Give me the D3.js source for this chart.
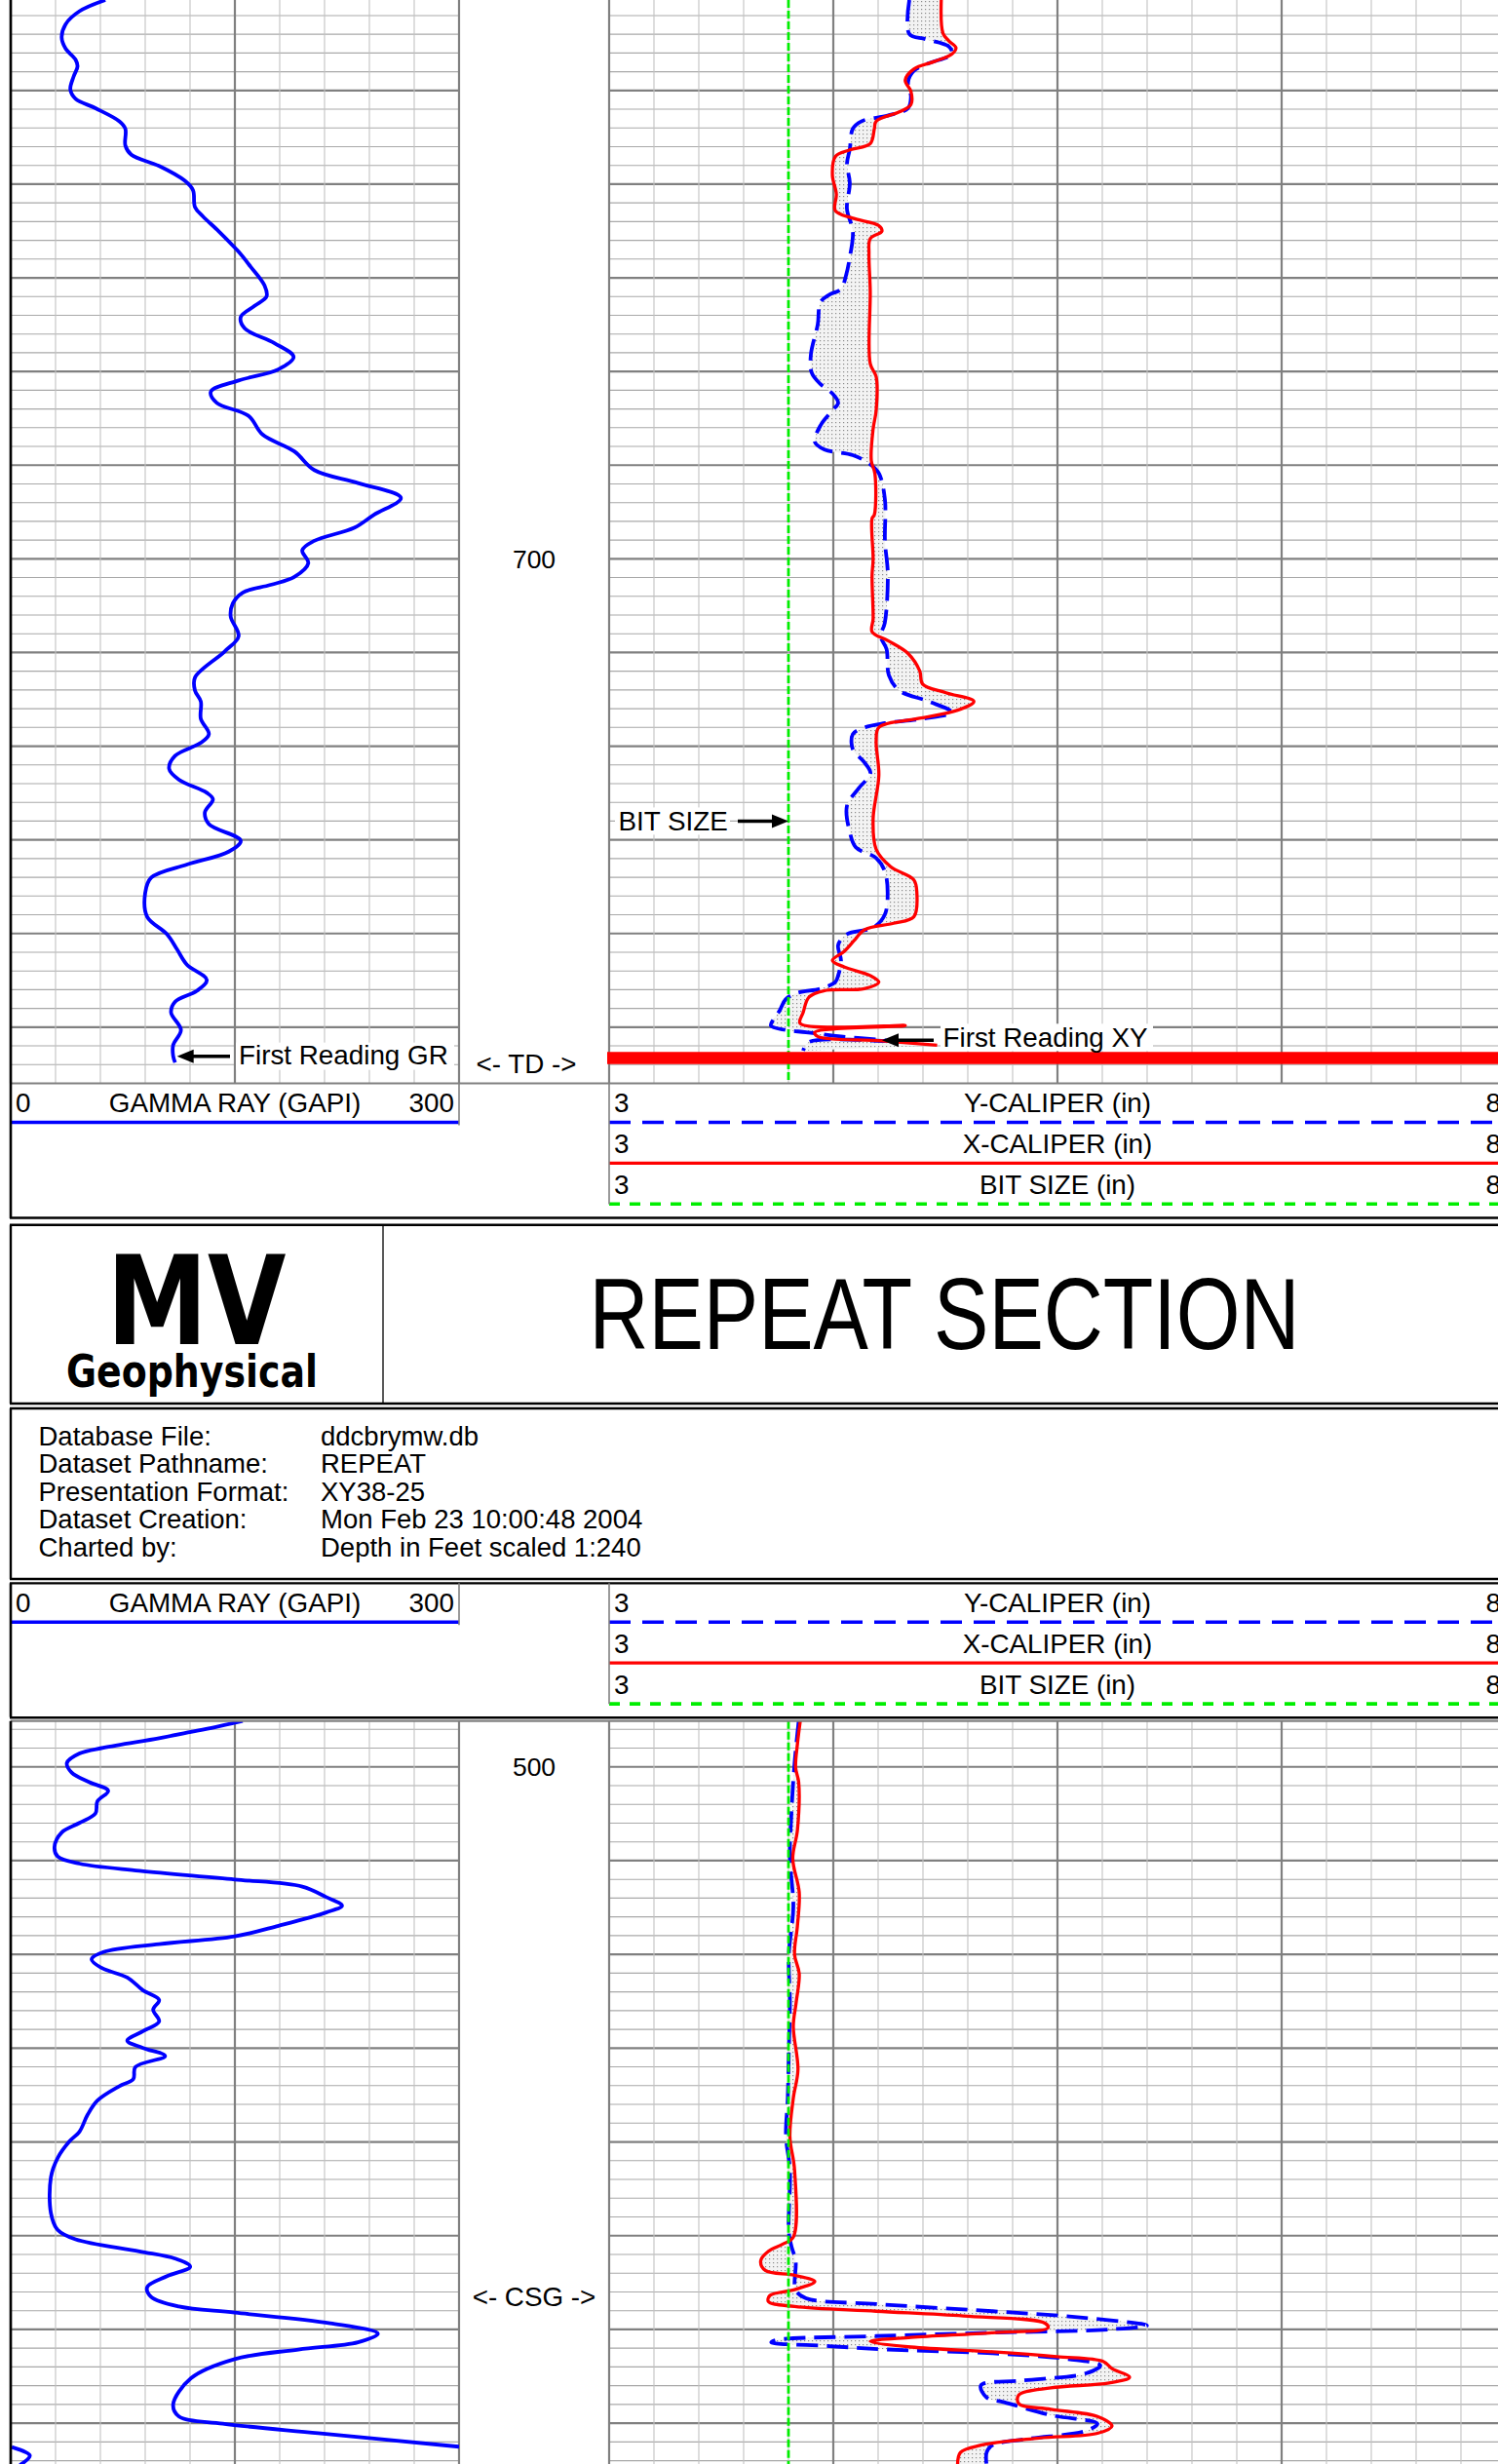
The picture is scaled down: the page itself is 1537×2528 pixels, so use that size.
<!DOCTYPE html>
<html>
<head>
<meta charset="utf-8">
<script src="https://cdn.jsdelivr.net/npm/d3@7"></script>
<style>
html,body{margin:0;padding:0;background:#fff;}
svg{display:block;}
</style>
</head>
<body>
<svg id="chart" width="1537" height="2528"></svg>
<script>
// ================= DATA =================
const grScale = [0, 300];            // GAPI
const caliperScale = [3, 8];         // inches
const bitSize = 4.0;                 // inches
const upperDepthRange = [640.34, 756.0];
const lowerDepthRange = [495.11, 574.53];
const upperDepthLabels = [700];
const lowerDepthLabels = [500];
const tdDepth = 753.3;
const curveNames = ["GAMMA RAY (GAPI)", "Y-CALIPER (in)", "X-CALIPER (in)", "BIT SIZE (in)"];
const infoLabels = ["Database File:", "Dataset Pathname:", "Presentation Format:", "Dataset Creation:", "Charted by:"];
const infoValues = ["ddcbrymw.db", "REPEAT", "XY38-25", "Mon Feb 23 10:00:48 2004", "Depth in Feet scaled 1:240"];
const titleText = "REPEAT SECTION";
const logoText = ["MV", "Geophysical"];
const annoUpper = {grFirst: 753.1, td: 753.9, bitSize: 728.0, xyFirst: 751.3};
const annoLower = {csg: 556.5};

// [depth ft, GR GAPI]
const grUpper = [
[640.34,63.3],[641.54,46.0],[642.93,36.7],[644.33,34.1],[645.52,36.7],[646.71,43.4],[647.43,44.7],
[648.51,42.1],[649.89,39.9],[650.89,43.4],[651.89,56.7],[653.29,72.7],[654.08,76.7],[655.88,76.7],
[656.86,80.7],[658.06,99.3],[659.65,116.6],[660.65,122.0],[662.44,123.3],[663.44,128.6],[665.03,139.2],
[667.22,152.5],[668.81,160.5],[670.81,169.8],[671.99,171.2],[672.99,163.2],[674.19,153.9],[675.39,156.5],
[676.98,176.5],[678.45,189.3],[679.77,179.2],[680.96,152.5],[682.15,133.9],[683.35,137.9],[684.74,159.2],
[686.73,168.5],[688.53,189.8],[690.52,203.1],[691.91,232.4],[693.5,261.1],[695.29,243.1],[696.69,229.8],
[698.08,203.1],[699.08,195.1],[700.48,199.1],[701.94,189.8],[702.78,173.9],[703.61,155.2],[704.77,148.6],
[706.17,147.2],[708.26,152.5],[709.88,143.2],[712.67,123.3],[714.07,123.3],[715.22,127.2],[717.08,127.2],
[718.71,132.6],[719.64,127.2],[721.03,110.0],[722.42,106.0],[723.59,112.6],[724.98,131.2],[725.67,135.3],
[727.07,129.9],[728.32,132.6],[730.09,153.9],[731.26,145.9],[732.64,117.9],[734.04,94.0],[735.66,90.0],
[738.22,91.3],[740.08,104.6],[741.7,111.3],[743.33,117.9],[744.96,131.2],[746.12,124.6],[747.28,110.0],
[748.44,107.3],[750.3,113.9],[751.92,108.7],[753.09,108.7],[753.78,110.0]
];

// [depth ft, Y-caliper in]
const yCalUpper = [
[640.34,4.674],[643.98,4.674],[644.52,4.765],[645.31,4.895],[646.12,4.911],[647.1,4.781],[647.91,4.699],
[649.1,4.667],[650.69,4.683],[651.89,4.667],[652.68,4.553],[653.28,4.408],[654.08,4.359],[656.26,4.342],
[657.86,4.326],[659.85,4.342],[662.64,4.326],[665.03,4.359],[667.81,4.342],[669.81,4.32],[671.2,4.293],
[671.8,4.228],[672.6,4.179],[675.0,4.163],[678.18,4.125],[680.16,4.13],[681.36,4.179],[682.36,4.245],
[683.35,4.277],[684.15,4.245],[685.74,4.179],[687.53,4.147],[688.33,4.201],[688.93,4.359],[689.92,4.457],
[690.91,4.505],[693.7,4.538],[698.09,4.538],[701.67,4.554],[706.86,4.537],[708.26,4.514],[709.64,4.547],
[712.44,4.56],[714.07,4.618],[715.22,4.781],[716.39,4.911],[717.08,4.748],[717.55,4.537],[718.01,4.423],
[718.71,4.359],[720.34,4.359],[721.72,4.423],[722.89,4.457],[724.51,4.391],[726.38,4.326],[729.16,4.342],
[730.79,4.375],[731.95,4.489],[733.35,4.537],[735.66,4.553],[738.0,4.537],[739.38,4.472],[740.08,4.326],
[741.24,4.277],[742.87,4.293],[744.49,4.277],[745.19,4.261],[745.89,4.179],[746.36,4.049],[747.04,3.984],
[748.21,3.951],[749.13,3.918],[749.83,3.902],[750.3,3.984],[750.54,4.098],[751.0,4.293],[751.46,4.554],
[751.58,4.114],[752.52,4.082]
];

// [depth ft, X-caliper in]
const xCalUpper = [
[640.34,4.852],[643.92,4.862],[644.72,4.895],[645.44,4.934],[646.12,4.911],[646.91,4.813],[647.71,4.699],
[648.9,4.651],[650.1,4.683],[651.5,4.683],[652.29,4.618],[653.28,4.489],[654.08,4.479],[655.67,4.456],
[656.34,4.342],[657.06,4.261],[659.06,4.245],[661.05,4.267],[662.84,4.261],[663.64,4.359],[664.43,4.504],
[665.03,4.521],[665.82,4.456],[667.42,4.449],[671.4,4.456],[679.16,4.456],[680.56,4.489],[684.15,4.489],
[686.14,4.472],[689.52,4.462],[690.91,4.482],[695.29,4.479],[695.7,4.466],[700.07,4.472],[701.76,4.466],
[706.4,4.472],[707.79,4.466],[708.72,4.553],[710.11,4.667],[711.97,4.732],[713.37,4.748],[714.3,4.878],
[715.22,5.034],[716.16,4.943],[717.08,4.716],[718.01,4.504],[719.41,4.489],[723.12,4.504],[727.77,4.472],
[731.02,4.489],[732.88,4.57],[734.27,4.699],[735.66,4.716],[738.22,4.699],[738.91,4.586],[739.61,4.423],
[740.78,4.365],[741.93,4.31],[742.87,4.245],[743.57,4.31],[744.49,4.456],[745.19,4.504],[745.89,4.423],
[746.12,4.196],[746.81,4.114],[748.44,4.082],[749.6,4.065],[749.83,4.651],[750.54,4.147],[750.99,4.163],
[751.46,4.521],[751.92,4.829]
];

const grLower = [
[495.10,155.2],[495.77,136.6],[496.28,120.6],[496.94,99.3],[497.96,62.0],[498.58,46.0],[499.59,37.6],
[500.61,40.8],[501.64,52.7],[502.56,65.2],[503.68,58.0],[504.96,56.7],[505.98,46.0],[507.0,34.1],
[508.53,29.3],[509.55,31.4],[510.32,46.0],[511.08,86.0],[512.01,149.9],[512.77,195.1],[513.89,211.1],
[514.81,221.7],[515.53,211.1],[516.95,179.2],[518.08,149.9],[518.9,99.3],[519.76,62.0],[520.53,54.1],
[521.44,60.7],[522.47,78.0],[523.85,88.6],[524.86,99.3],[525.89,95.3],[527.16,99.3],[528.19,88.6],
[529.21,78.0],[529.98,88.6],[530.84,103.3],[532.02,83.4],[533.3,82.0],[534.05,72.7],[535.59,58.0],
[537.12,51.4],[538.91,46.0],[539.93,39.4],[541.72,31.4],[543.76,26.9],[547.59,26.9],[549.38,31.4],
[550.4,43.4],[551.67,86.0],[552.44,110.0],[553.31,120.1],[554.32,104.6],[555.5,91.3],[556.53,94.0],
[557.55,112.6],[558.21,149.9],[559.34,213.8],[560.46,245.7],[561.37,232.4],[562.14,192.5],[563.16,149.9],
[565.21,120.6],[568.02,108.7],[569.28,112.6],[570.05,141.9],[571.07,205.8],[572.51,300.0]
];
// values above full scale, shown on the wrap-around (backup) scale
const grLowerBackup = [[572.55,300.7],[573.46,312.8],[574.47,306.1]];

const yCalLower = [
[495.10,4.057],[499.59,4.034],[504.7,4.017],[509.8,4.008],[514.92,4.027],[520.02,4.002],[525.12,4.008],
[530.23,4.002],[535.33,3.996],[539.42,3.986],[542.99,4.008],[549.64,4.002],[551.16,4.017],[552.7,4.04],
[555.76,4.04],[556.67,4.098],[557.29,4.489],[558.06,5.138],[558.72,5.626],[559.58,5.999],[560.0,5.788],
[560.35,5.138],[560.71,4.489],[561.12,3.936],[561.37,3.904],[561.78,4.228],[562.14,4.553],[562.55,5.138],
[563.16,5.560],[563.83,5.739],[564.69,5.658],[565.46,5.301],[565.97,5.073],[567.25,5.105],[567.76,5.203],
[569.14,5.463],[570.05,5.723],[570.82,5.658],[571.68,5.333],[572.35,5.138],[573.12,5.105],[574.53,5.105]
];

const xCalLower = [
[495.10,4.066],[497.56,4.05],[500.1,4.04],[501.64,4.057],[506.75,4.05],[509.8,4.024],[513.38,4.06],
[516.95,4.05],[520.02,4.034],[522.06,4.06],[525.12,4.043],[527.68,4.027],[532.28,4.053],[535.33,4.027],
[539.42,4.008],[542.99,4.034],[550.15,4.027],[550.9,3.968],[551.67,3.888],[552.7,3.845],[553.71,3.871],
[554.23,4.034],[554.89,4.147],[555.76,4.034],[556.37,3.897],[557.04,3.888],[557.55,4.034],[558.06,4.489],
[558.57,4.976],[559.33,5.430],[559.84,5.447],[560.35,5.138],[560.86,4.683],[561.27,4.456],[561.88,4.683],
[562.39,5.138],[562.91,5.496],[563.42,5.755],[564.18,5.804],[565.1,5.902],[565.72,5.788],[566.23,5.463],
[566.99,5.284],[567.91,5.284],[568.52,5.463],[569.29,5.723],[570.31,5.804],[571.08,5.723],[571.59,5.398],
[572.35,5.073],[573.12,4.959],[574.53,4.943]
];

// ================= DRAWING =================
const FONT = "'Liberation Sans', Arial, Helvetica, sans-serif";
const FS = 27.8;
const svg = d3.select("#chart");
const defs = svg.append("defs");
const pat = defs.append("pattern").attr("id","stip").attr("width",4).attr("height",4)
  .attr("patternUnits","userSpaceOnUse");
pat.append("rect").attr("width",4).attr("height",4).attr("fill","#f3f3f3");
pat.append("rect").attr("x",1).attr("y",1).attr("width",1.2).attr("height",1.2).attr("fill","#8a8a8a");

const L0 = 11, L1 = 471, R0 = 625, R1 = 1545, DC = (L1 + R0) / 2;
const grX = d3.scaleLinear().domain(grScale).range([L0, L1]);
const calX = d3.scaleLinear().domain(caliperScale).range([R0, R1]);
const upperY = d3.scaleLinear().domain(upperDepthRange).range([0, 1111.5]);
const lowerY = d3.scaleLinear().domain(lowerDepthRange).range([1765.7, 2529.7]);

const grTicks = d3.range(0, 11).map(i => grScale[0] + i * (grScale[1] - grScale[0]) / 10);
const calTicks = d3.range(0, 21).map(i => caliperScale[0] + i * (caliperScale[1] - caliperScale[0]) / 20);

function txt(g, x, y, s, opt = {}) {
  const t = g.append("text").attr("x", x).attr("y", y).text(s)
    .attr("font-family", opt.family || FONT).attr("font-size", opt.size || FS)
    .attr("fill", "#000").attr("text-anchor", opt.anchor || "start");
  if (opt.weight) t.attr("font-weight", opt.weight);
  if (opt.len) t.attr("textLength", opt.len).attr("lengthAdjust", "spacingAndGlyphs");
  return t;
}
function hline(g, x1, x2, y, color, w, dash) {
  const l = g.append("line").attr("x1", x1).attr("x2", x2).attr("y1", y).attr("y2", y)
    .attr("stroke", color).attr("stroke-width", w);
  if (dash) l.attr("stroke-dasharray", dash);
  return l;
}
function vline(g, x, y1, y2, color, w, dash) {
  const l = g.append("line").attr("x1", x).attr("x2", x).attr("y1", y1).attr("y2", y2)
    .attr("stroke", color).attr("stroke-width", w);
  if (dash) l.attr("stroke-dasharray", dash);
  return l;
}
function arrow(g, xFrom, xTip, y) {
  const dir = xTip < xFrom ? 1 : -1;
  g.append("line").attr("x1", xFrom).attr("x2", xTip + dir * 12).attr("y1", y).attr("y2", y)
    .attr("stroke", "#000").attr("stroke-width", 3.5);
  g.append("path").attr("d", `M${xTip},${y} L${xTip + dir * 17},${y - 7} L${xTip + dir * 17},${y + 7} Z`)
    .attr("fill", "#000");
}

function drawSection(id, yS, top, bottom, gr, grBackup, yCal, xCal, depthLabels) {
  const g = svg.append("g");
  defs.append("clipPath").attr("id", id + "L").append("rect")
    .attr("x", L0).attr("y", top).attr("width", L1 - L0).attr("height", bottom - top);
  defs.append("clipPath").attr("id", id + "R").append("rect")
    .attr("x", R0).attr("y", top).attr("width", R1 - R0).attr("height", bottom - top);

  // horizontal grid
  const [d0, d1] = yS.domain();
  const depths = d3.range(Math.ceil(d0 / 2) * 2, d1, 2);
  depths.forEach(d => {
    const major = Math.abs(d / 10 - Math.round(d / 10)) < 1e-6;
    const y = yS(d);
    [[L0, L1], [R0, R1]].forEach(([a, b]) =>
      hline(g, a, b, y, major ? "#808080" : "#a9a9a9", major ? 2.2 : 1.1));
  });
  // vertical grid
  grTicks.forEach((v, i) => {
    const major = i % 5 === 0;
    vline(g, grX(v), top, bottom, major ? "#808080" : "#c2c2c2", major ? 2.2 : 1.1);
  });
  calTicks.forEach((v, i) => {
    const major = i % 5 === 0;
    vline(g, calX(v), top, bottom, major ? "#808080" : "#c2c2c2", major ? 2.2 : 1.1);
  });

  // depth labels
  depthLabels.forEach(d => txt(g, DC, yS(d) + 9.5, String(d), {anchor: "middle", size: 26.5}));

  // GR
  const gl = g.append("g").attr("clip-path", `url(#${id}L)`);
  const grLine = d3.line().x(d => grX(d[1])).y(d => yS(d[0])).curve(d3.curveCatmullRom.alpha(0.5));
  gl.append("path").attr("d", grLine(gr)).attr("fill", "none").attr("stroke", "#0000ff")
    .attr("stroke-width", 3.8).attr("stroke-linejoin", "round");
  if (grBackup && grBackup.length) {
    const bLine = d3.line().x(d => grX(d[1] - (grScale[1] - grScale[0]))).y(d => yS(d[0]))
      .curve(d3.curveCatmullRom.alpha(0.5));
    gl.append("path").attr("d", bLine(grBackup)).attr("fill", "none").attr("stroke", "#0000ff")
      .attr("stroke-width", 3.8);
  }

  // calipers
  const gr2 = g.append("g").attr("clip-path", `url(#${id}R)`);
  const cLine = d3.line().x(d => calX(d[1])).y(d => yS(d[0])).curve(d3.curveCatmullRom.alpha(0.5));
  const fillPath = cLine(xCal) + "L" + cLine(yCal.slice().reverse()).slice(1) + "Z";
  gr2.append("path").attr("d", fillPath).attr("fill", "url(#stip)").attr("stroke", "none");
  gr2.append("path").attr("d", cLine(yCal)).attr("fill", "none").attr("stroke", "#0000ff")
    .attr("stroke-width", 3.8).attr("stroke-dasharray", "22,9");
  gr2.append("path").attr("d", cLine(xCal)).attr("fill", "none").attr("stroke", "#ff0000")
    .attr("stroke-width", 3.3).attr("stroke-linejoin", "round");
  vline(gr2, calX(bitSize), top, bottom, "#00ee00", 2.8, "8,3");
  return g;
}

// ---------- UPPER SECTION ----------
const gU = drawSection("up", upperY, 0, 1111.5, grUpper, null, yCalUpper, xCalUpper, upperDepthLabels);
// TD spike
hline(gU, calX(caliperScale[0]) - 2, calX(caliperScale[1]), upperY(tdDepth), "#ff0000", 12.5);
// annotations
{
  const y = upperY(annoUpper.grFirst);
  gU.append("rect").attr("x", 242).attr("y", y - 14).attr("width", 224).attr("height", 28).attr("fill", "#fff");
  txt(gU, 245, y + 8.5, "First Reading GR");
  arrow(gU, 236, grX(grUpper[grUpper.length - 1][1]) + 2, y);

  const yt = upperY(annoUpper.td);
  txt(gU, 540, yt + 9.5, "<- TD ->", {anchor: "middle"});

  const yb = upperY(annoUpper.bitSize);
  gU.append("rect").attr("x", 631).attr("y", yb - 14).attr("width", 118).attr("height", 28).attr("fill", "#fff");
  txt(gU, 634.5, yb + 9.5, "BIT SIZE");
  arrow(gU, 757, calX(bitSize), yb);

  const yx = upperY(annoUpper.xyFirst);
  gU.append("rect").attr("x", 965).attr("y", yx - 16).attr("width", 218).attr("height", 28).attr("fill", "#fff");
  txt(gU, 967.5, yx + 8, "First Reading XY");
  arrow(gU, 958, 905, yx + 1);
}
hline(gU, L0, R1, 1111.5, "#808080", 2.2);

// ---------- LEGENDS ----------
function drawLegend(top, withTopLine) {
  const g = svg.append("g");
  if (withTopLine) hline(g, L0 - 1, R1, top, "#000", 2.2);
  // GR
  txt(g, L0 + 5, top + 29.7, String(grScale[0]));
  txt(g, (L0 + L1) / 2, top + 29.7, curveNames[0], {anchor: "middle"});
  txt(g, L1 - 5, top + 29.7, String(grScale[1]), {anchor: "end"});
  hline(g, L0, L1, top + 40, "#0000ff", 3.6);
  vline(g, L1, top, top + 43, "#808080", 1.6);
  // calipers
  const rows = [
    {name: curveNames[1], color: "#0000ff", dash: "22,12", w: 3.6},
    {name: curveNames[2], color: "#ff0000", dash: null, w: 3.2},
    {name: curveNames[3], color: "#00ee00", dash: "11,10", w: 3.6}
  ];
  rows.forEach((r, i) => {
    const cy = top + 20 + i * 42;
    txt(g, R0 + 5, cy + 9.7, String(caliperScale[0]));
    txt(g, (R0 + R1) / 2, cy + 9.7, r.name, {anchor: "middle"});
    txt(g, R1 - 5, cy + 9.7, String(caliperScale[1]), {anchor: "end"});
    hline(g, R0, R1, top + 40 + i * 41.9, r.color, r.w, r.dash);
  });
  vline(g, R0, top, top + 124, "#808080", 1.6);
  hline(g, L0 - 1, R1, top + 138, "#000", 2.4);
  return g;
}
drawLegend(1111.5, false);

// ---------- HEADER ----------
{
  const g = svg.append("g");
  const hTop = 1256.7, hBot = 1440, iTop = 1445, iBot = 1620;
  hline(g, L0 - 1, R1, hTop, "#000", 2.4);
  hline(g, L0 - 1, R1, hBot, "#000", 2.4);
  hline(g, L0 - 1, R1, iTop, "#000", 2.4);
  hline(g, L0 - 1, R1, iBot, "#000", 2.4);
  vline(g, L0, hTop, hBot, "#000", 2.4);
  vline(g, L0, iTop, iBot, "#000", 2.4);
  vline(g, 393, hTop, hBot, "#000", 1.3);
  txt(g, 201.5, 1379, logoText[0], {family: "'DejaVu Sans', 'Liberation Sans', sans-serif",
      weight: "bold", size: 126, anchor: "middle", len: 184});
  txt(g, 197, 1422.5, logoText[1], {family: "'DejaVu Sans', 'Liberation Sans', sans-serif",
      weight: "bold", size: 47, anchor: "middle", len: 258});
  txt(g, 969, 1384, titleText, {size: 103, anchor: "middle", len: 729});
  infoLabels.forEach((s, i) => {
    txt(g, 39.5, 1482.7 + i * 28.5, s, {size: 27.5});
    txt(g, 329, 1482.7 + i * 28.5, infoValues[i], {size: 27.5});
  });
}
drawLegend(1624.3, true);

// ---------- LOWER SECTION ----------
const gL = drawSection("lo", lowerY, 1765.7, 2530, grLower, grLowerBackup, yCalLower, xCalLower, lowerDepthLabels);
hline(gL, L0, R1, 1765.7, "#808080", 2.2);
txt(gL, DC, lowerY(annoLower.csg) + 9.5, "<- CSG ->", {anchor: "middle"});

// outer left frame lines
vline(svg, L0, 0, 1250, "#000", 2.6);
vline(svg, L0, 1624.3, 1761.7, "#000", 2.6);
vline(svg, L0, 1765.7, 2528, "#000", 2.6);
</script>
</body>
</html>
